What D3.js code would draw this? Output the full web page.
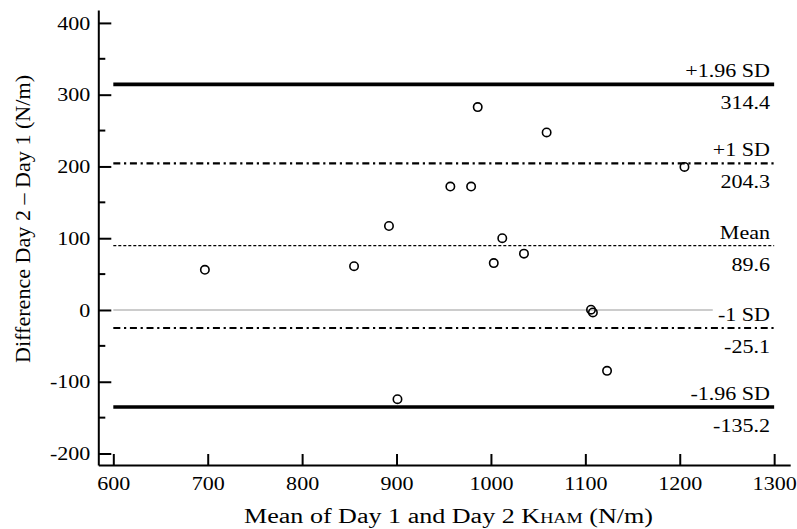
<!DOCTYPE html>
<html lang="en">
<head>
    <meta charset="UTF-8">
    <title>Bland-Altman KHAM</title>
    <script src="https://d3js.org/d3.v7.min.js"></script>
    <style>
        body { margin: 0; background: #fff; }
    </style>
</head>
<body>
<svg id="chart" width="797" height="529"></svg>
<script>
    // mean of day 1 and day 2 (x) and difference day 2 - day 1 (y)
    const meanKham = [697, 855, 892, 901, 957, 979, 986, 1003, 1012, 1035, 1059, 1106, 1108, 1123, 1205];
    const diffKham = [56, 61, 117, -124.3, 172, 172, 282.7, 65.3, 100, 78.5, 247.4, 0.4, -3.4, -84.8, 199.4];

    // reference lines: limits of agreement, +/-1 SD and mean
    const refValues = [314.4, 204.3, 89.6, -25.1, -135.2];
    const refNames = ["+1.96 SD", "+1 SD", "Mean", "-1 SD", "-1.96 SD"];
    const refKinds = ["loa", "sd", "mean", "sd", "loa"];

    const xTicks = [600, 700, 800, 900, 1000, 1100, 1200, 1300];
    const yTicks = [-200, -100, 0, 100, 200, 300, 400];
    const yMinor = [-150, -50, 50, 150, 250, 350];

    const serif = '"Liberation Serif", "DejaVu Serif", serif';
    const stretch = 1.16;   // the original type is a little wider than Times

    const svg = d3.select('#chart').style('font-family', serif);

    let x = d3.scaleLinear().domain([584.1, 1317]).range([98.3, 790.2]);
    let y = d3.scaleLinear().domain([-216, 418]).range([465, 10]);

    const lineStyle = {
        loa: {width: 3.6, dash: null},
        sd: {width: 2.2, dash: "7,3.7,2.2,3.7"},
        mean: {width: 1.3, dash: "3,2"}
    };

    function widen(sel, target) {
        sel.each(function () {
            let w = target || this.getComputedTextLength() * stretch;
            d3.select(this).attr('textLength', w).attr('lengthAdjust', 'spacingAndGlyphs');
        });
    }

    // zero line (thin gray)
    svg.append('line')
        .attr('x1', x(600)).attr('x2', x(1235))
        .attr('y1', y(0)).attr('y2', y(0))
        .attr('stroke', '#9a9a9a').attr('stroke-width', 1.2);

    refValues.forEach((v, i) => {
        let st = lineStyle[refKinds[i]];
        svg.append('line')
            .attr('x1', x(600)).attr('x2', x(1300))
            .attr('y1', y(v)).attr('y2', y(v))
            .attr('stroke', '#000')
            .attr('stroke-width', st.width)
            .attr('stroke-dasharray', st.dash);
        let t1 = svg.append('text')
            .attr('x', 770).attr('y', y(v) - 7)
            .attr('text-anchor', 'end')
            .style('font-family', serif)
            .style('font-size', '19px')
            .text(refNames[i]);
        let t2 = svg.append('text')
            .attr('x', 770).attr('y', y(v) + 25)
            .attr('text-anchor', 'end')
            .style('font-family', serif)
            .style('font-size', '19px')
            .text(v.toFixed(1));
        widen(t1);
        widen(t2);
    });

    // axes, ticks drawn inward
    let yAxis = d3.axisLeft(y).tickValues(yTicks).tickFormat(d => String(d))
        .tickSize(-13).tickPadding(8).tickSizeOuter(0);
    let gy = svg.append('g').attr('transform', 'translate(98.3,0)').call(yAxis);
    gy.attr('font-family', serif);
    gy.selectAll('.tick text').style('font-family', serif).style('font-size', '19px').call(widen);
    gy.selectAll('.tick line').attr('stroke-width', 2);
    gy.select('.domain').attr('stroke-width', 2);
    gy.selectAll('.minor').data(yMinor).enter().append('line')
        .attr('x1', 0).attr('x2', 7)
        .attr('y1', d => y(d)).attr('y2', d => y(d))
        .attr('stroke', '#000').attr('stroke-width', 2);

    let xAxis = d3.axisBottom(x).tickValues(xTicks).tickFormat(d => String(d))
        .tickSize(-11).tickPadding(11.5).tickSizeOuter(0);
    let gx = svg.append('g').attr('transform', 'translate(0,465)').call(xAxis);
    gx.attr('font-family', serif);
    gx.selectAll('.tick text').style('font-family', serif).style('font-size', '19px').call(widen);
    gx.selectAll('.tick line').attr('stroke-width', 2);
    gx.select('.domain').attr('stroke-width', 2);

    // points
    svg.append('g').selectAll('circle')
        .data(meanKham)
        .enter().append('circle')
        .attr('cx', d => x(d))
        .attr('cy', (d, i) => y(diffKham[i]))
        .attr('r', 4.2)
        .attr('fill', 'none')
        .attr('stroke', '#000')
        .attr('stroke-width', 1.6);

    // axis titles
    let yt = svg.append('text')
        .attr('transform', 'translate(30,219) rotate(-90)')
        .attr('text-anchor', 'middle')
        .style('font-family', serif)
        .style('font-size', '20px')
        .text('Difference Day 2 \u2013 Day 1 (N/m)');
    widen(yt, 288);

    let xt = svg.append('text')
        .attr('x', 448.5).attr('y', 523)
        .attr('text-anchor', 'middle')
        .style('font-family', serif)
        .style('font-size', '20px');
    xt.append('tspan').text('Mean of Day 1 and Day 2 K');
    xt.append('tspan').style('font-size', '14px').text('HAM');
    xt.append('tspan').text(' (N/m)');
    widen(xt, 409);
</script>
</body>
</html>
